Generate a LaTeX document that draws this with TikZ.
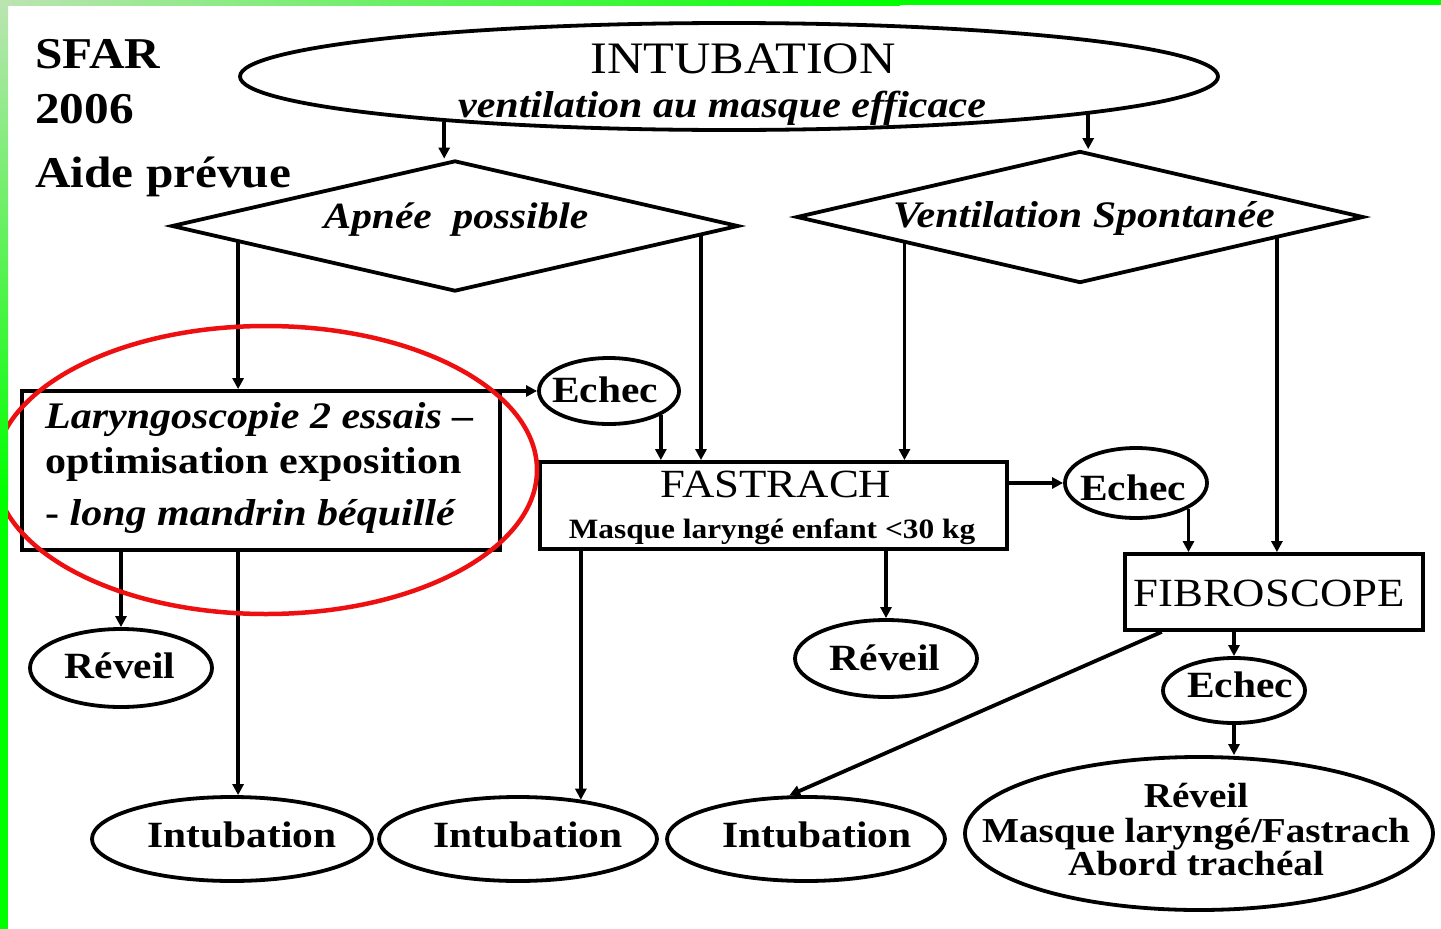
\documentclass[tikz,border=0pt]{standalone}
\usepackage{fontspec}
\setmainfont{Liberation Serif}[FakeStretch=1.12]
\usetikzlibrary{shapes.geometric,arrows.meta,calc}
\newcommand\fsz[1]{\fontsize{#1}{#1}\selectfont}
\definecolor{gpale}{RGB}{188,228,178}
\definecolor{gbright}{RGB}{0,255,0}
\definecolor{redring}{RGB}{238,16,16}
\begin{document}
\begin{tikzpicture}[x=1pt,y=-1pt,
  lw/.style={line width=3.8pt},
  conn/.style={lw, -{Triangle[length=11pt,width=11pt]}},
  ell/.style={ellipse, draw, lw, inner sep=0pt},
  boxn/.style={rectangle, draw, lw, inner sep=0pt},
  dia/.style={diamond, draw, lw, inner sep=0pt, aspect=4.3},
  lbl/.style={inner sep=0pt, anchor=base},
  lblw/.style={inner sep=0pt, anchor=base west},
  txb/.style={font=\bfseries\fsz{37}},
]
\useasboundingbox (0,0) rectangle (1441,929);
\fill[white] (0,0) rectangle (1441,929);

% header text
\node[lblw, font=\bfseries\fsz{44}] (sfar) at (35,68) {SFAR};
\node[lblw, font=\bfseries\fsz{44}] (year) at (35,123) {2006};
\node[lblw, font=\bfseries\fsz{44}] (aide) at (35,187) {Aide prévue};

% shapes
\node[ell, minimum width=978pt, minimum height=107pt] (top) at (729,76.5) {};
\node[lbl, font=\fsz{45}] (topT) at (743,73) {INTUBATION};
\node[lbl, font=\bfseries\itshape\fsz{37.5}] (topS) at (722,117) {ventilation au masque efficace};

\node[dia, minimum width=567pt, minimum height=131pt] (apnee) at (455,226) {};
\node[lbl, font=\bfseries\itshape\fsz{37}] (apneeT) at (456,228) {Apnée\ \ possible};

\node[dia, minimum width=567pt, minimum height=132pt] (vs) at (1080,217) {};
\node[lbl, font=\bfseries\itshape\fsz{37.5}] (vsT) at (1084,227) {Ventilation Spontanée};

\node[boxn, minimum width=478pt, minimum height=159pt] (lar) at (261,470.5) {};
\node[lblw, font=\bfseries\itshape\fsz{37.5}] (larA) at (45,428) {Laryngoscopie 2 essais –};
\node[lblw, font=\bfseries\fsz{37.5}] (larB) at (45,473) {optimisation exposition};
\node[lblw, font=\bfseries\fsz{37.5}] (larC) at (45,525) {- \itshape long mandrin béquillé};

\node[ell, minimum width=140pt, minimum height=66pt] (echec1) at (609,391) {};
\node[lbl, txb] (echec1T) at (605,402) {Echec};

\node[boxn, minimum width=467pt, minimum height=87pt] (fast) at (773.5,505.5) {};
\node[lbl, font=\fsz{40}] (fastT) at (776,497) {FASTRACH};
\node[lbl, font=\bfseries\fsz{28}] (fastS) at (772,538) {Masque laryngé enfant <30 kg};

\node[ell, minimum width=142pt, minimum height=70pt] (echec2) at (1136,483) {};
\node[lbl, txb] (echec2T) at (1133,500) {Echec};

\node[boxn, minimum width=298pt, minimum height=76pt] (fibro) at (1274,592) {};
\node[lbl, font=\fsz{40}] (fibroT) at (1269,606) {FIBROSCOPE};

\node[ell, minimum width=142pt, minimum height=65pt] (echec3) at (1234,690.5) {};
\node[lbl, txb] (echec3T) at (1240,697) {Echec};

\node[ell, minimum width=468pt, minimum height=153pt] (big) at (1199,833.5) {};
\node[lbl, font=\bfseries\fsz{35}] (bigA) at (1196,807) {Réveil};
\node[lbl, font=\bfseries\fsz{35}] (bigB) at (1196,842) {Masque laryngé/Fastrach};
\node[lbl, font=\bfseries\fsz{35}] (bigC) at (1196,875) {Abord trachéal};

\node[ell, minimum width=182pt, minimum height=78pt] (reveil1) at (121,668) {};
\node[lbl, txb] (reveil1T) at (120,678) {Réveil};
\node[ell, minimum width=182pt, minimum height=77pt] (reveil2) at (886,658.5) {};
\node[lbl, txb] (reveil2T) at (885,670) {Réveil};

\node[ell, minimum width=280pt, minimum height=84pt] (intub1) at (232,839) {};
\node[lbl, txb] (intub1T) at (242,847) {Intubation};
\node[ell, minimum width=278pt, minimum height=84pt] (intub2) at (518,839) {};
\node[lbl, txb] (intub2T) at (528,847) {Intubation};
\node[ell, minimum width=278pt, minimum height=84pt] (intub3) at (806,839) {};
\node[lbl, txb] (intub3T) at (817,847) {Intubation};

% connector start points on diamond / box edges
\coordinate (a1) at ($(apnee.west)!0.24!(apnee.south)$);
\coordinate (a2) at ($(apnee.east)!0.138!(apnee.south)$);
\coordinate (v1) at ($(vs.west)!0.385!(vs.south)$);
\coordinate (v2) at ($(vs.east)!0.31!(vs.south)$);
\coordinate (f1) at ($(fibro.south west)!0.128!(fibro.south east)$);

% connectors
\draw[conn] (top.189.1) -- (top.189.1 |- apnee.north);
\draw[conn] (top.354.1) -- (top.354.1 |- vs.north);
\draw[conn] (a1) -- (a1 |- lar.north);
\draw[conn] (a2) -- (a2 |- fast.north);
\draw[conn] (v1) -- (v1 |- fast.north);
\draw[conn] (v2) -- (v2 |- fibro.north);
\draw[conn] (echec1.west -| lar.east) -- (echec1.west);
\draw[conn] (echec1.-25) -- (echec1.-25 |- fast.north);
\draw[conn] (echec2.west -| fast.east) -- (echec2.west);
\draw[conn] (echec2.-26) -- (echec2.-26 |- fibro.north);
\draw[conn] (echec3.north |- fibro.south) -- (echec3.north);
\draw[conn] (echec3.south) -- (echec3.south |- big.north);
\draw[conn] (f1) -- (intub3.111);
\draw[conn] (reveil1.north |- lar.south) -- (reveil1.north);
\draw[conn] (a1 |- lar.south) -- (a1 |- intub1.north);
\draw[conn] (intub2.32.8 |- fast.south) -- (intub2.32.8);
\draw[conn] (reveil2.north |- fast.south) -- (reveil2.north);

% red annotation ring
\draw[redring, line width=4.5pt] (266,470) ellipse [x radius=271, y radius=144];

% green frame
\shade[left color=gpale, right color=gbright] (0,0) rectangle (900,5);
\fill[gbright] (900,0) rectangle (1441,5);
\shade[top color=gpale, bottom color=gbright] (0,0) rectangle (8,500);
\fill[gbright] (0,500) rectangle (8,929);
\end{tikzpicture}
\end{document}
